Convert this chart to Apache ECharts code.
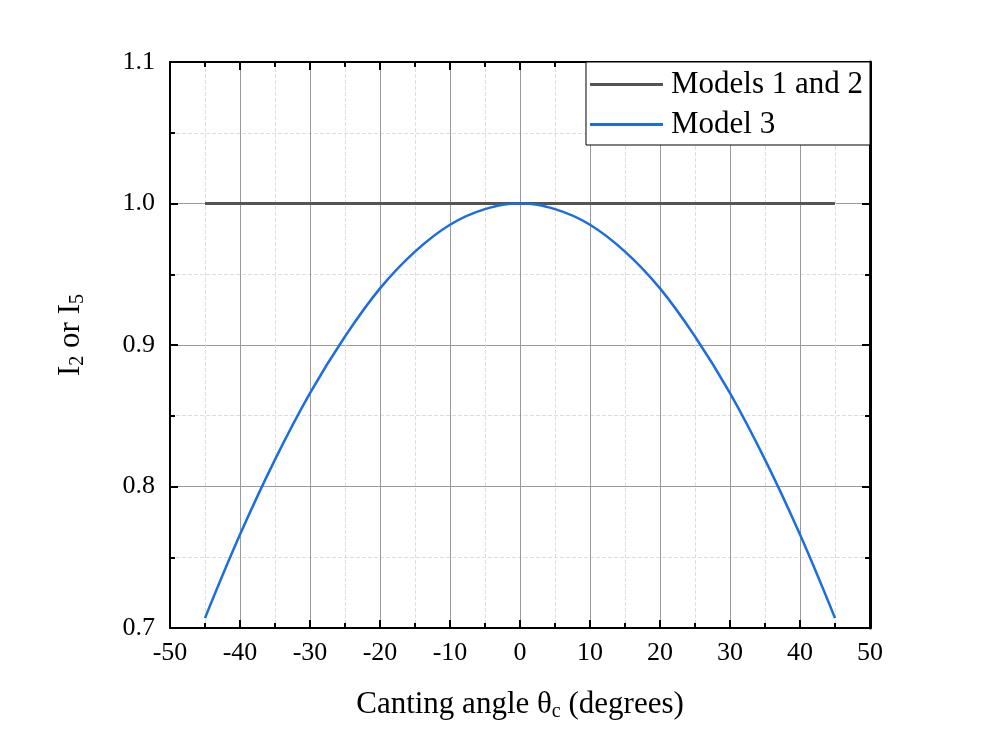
<html>
<head>
<script src="https://cdn.jsdelivr.net/npm/echarts@6/dist/echarts.min.js"></script>
<style>
  body { margin: 0; background: #fff; }
  #chart { width: 1000px; height: 744px; }
</style>
</head>
<body>
<div id="chart"></div>
<script type="text/javascript">
// canting angle (degrees)
var angles = [-45, -40, -35, -30, -25, -20, -15, -10, -5, 0, 5, 10, 15, 20, 25, 30, 35, 40, 45];
// Models 1 and 2: flat at 1.0
var models12 = [1, 1, 1, 1, 1, 1, 1, 1, 1, 1, 1, 1, 1, 1, 1, 1, 1, 1, 1];
// Model 3 values
var model3 = [0.707, 0.766, 0.819, 0.866, 0.906, 0.940, 0.966, 0.985, 0.996, 1.0,
              0.996, 0.985, 0.966, 0.940, 0.906, 0.866, 0.819, 0.766, 0.707];
var xTicks = [-50, -40, -30, -20, -10, 0, 10, 20, 30, 40, 50];
var yTicks = [0.7, 0.8, 0.9, 1.0, 1.1];

var serif = 'Liberation Serif';
var chart = echarts.init(document.getElementById('chart'), null, { renderer: 'canvas' });

function pairs(xs, ys) {
    var out = [];
    for (var i = 0; i < xs.length; i++) out.push([xs[i], ys[i]]);
    return out;
}

function subRich(size) {
    return {
        n: { fontFamily: serif, fontSize: size, color: '#000', lineHeight: 38 },
        s: { fontFamily: serif, fontSize: Math.round(size * 0.66), color: '#000', lineHeight: 24, padding: [14, 0, 0, 0] }
    };
}

var axisBase = {
    type: 'value',
    axisLine: { show: true, onZero: false, lineStyle: { color: '#000', width: 2 } },
    axisTick: { show: true, inside: true, length: 8, lineStyle: { color: '#000', width: 2 } },
    minorTick: { show: true, splitNumber: 2, length: 5, lineStyle: { color: '#000', width: 2 } }
};

option = {
    animation: false,
    backgroundColor: '#fff',
    grid: { left: 170, right: 130, top: 62, bottom: 116 },
    legend: {
        orient: 'vertical',
        right: 130,
        top: 62,
        backgroundColor: '#fff',
        borderColor: '#000',
        borderWidth: 1,
        borderRadius: 0,
        padding: [7, 7, 5, 4],
        itemGap: 9,
        itemWidth: 73,
        itemHeight: 3,
        icon: 'rect',
        textStyle: { fontFamily: serif, fontSize: 31, color: '#000', padding: [0, 0, 0, 3] },
        data: ['Models 1 and 2', 'Model 3']
    },
    xAxis: [
        Object.assign({}, axisBase, {
            min: xTicks[0], max: xTicks[xTicks.length - 1], interval: 10,
            position: 'bottom',
            axisLabel: { fontFamily: serif, fontSize: 26, color: '#000', margin: 12 },
            splitLine: { show: true, lineStyle: { color: '#9a9a9a', width: 1 } },
            minorSplitLine: { show: true, lineStyle: { color: '#dedede', width: 1, type: 'dashed' } },
            name: '{n|Canting angle θ}{s|c}{n| (degrees)}',
            nameLocation: 'middle',
            nameGap: 58,
            nameTextStyle: { rich: subRich(31) }
        }),
        Object.assign({}, axisBase, {
            min: xTicks[0], max: xTicks[xTicks.length - 1], interval: 10,
            position: 'top',
            axisLabel: { show: false },
            splitLine: { show: false }
        })
    ],
    yAxis: [
        Object.assign({}, axisBase, {
            min: yTicks[0], max: yTicks[yTicks.length - 1], interval: 0.1,
            position: 'left',
            axisLabel: {
                fontFamily: serif, fontSize: 26, color: '#000', margin: 15,
                formatter: function (v) { return v.toFixed(1); }
            },
            splitLine: { show: true, lineStyle: { color: '#9a9a9a', width: 1 } },
            minorSplitLine: { show: true, lineStyle: { color: '#dedede', width: 1, type: 'dashed' } },
            name: '{n|I}{s|2}{n| or I}{s|5}',
            nameLocation: 'middle',
            nameGap: 80,
            nameRotate: 90,
            nameTextStyle: { rich: subRich(31), padding: [0, 0, 0, 20] }
        }),
        Object.assign({}, axisBase, {
            min: yTicks[0], max: yTicks[yTicks.length - 1], interval: 0.1,
            position: 'right',
            axisLine: { show: true, onZero: false, lineStyle: { color: '#000', width: 3 } },
            axisLabel: { show: false },
            splitLine: { show: false }
        })
    ],
    series: [
        {
            name: 'Models 1 and 2',
            type: 'line',
            data: pairs(angles, models12),
            showSymbol: false,
            color: '#555555',
            lineStyle: { width: 3, color: '#555555' }
        },
        {
            name: 'Model 3',
            type: 'line',
            data: pairs(angles, model3),
            smooth: 0.4,
            showSymbol: false,
            color: '#1c6de0',
            lineStyle: { width: 2.5, color: '#1c6de0' }
        }
    ]
};

chart.setOption(option);
</script>
</body>
</html>
